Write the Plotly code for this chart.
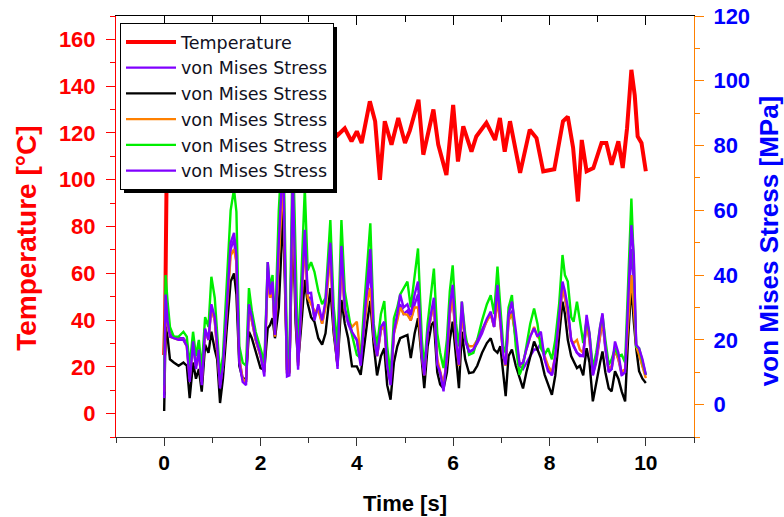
import plotly.graph_objects as go

# ---------------- data ----------------
t_temp = [0, 0.02, 0.05, 0.1, 0.3, 0.6, 0.9, 1.2, 1.5, 1.8,
          2.1, 2.4, 2.7, 3.0, 3.3, 3.6, 3.75, 3.89, 4.0, 4.1,
          4.27, 4.38, 4.48, 4.58, 4.72, 4.86, 5.0, 5.1, 5.28, 5.38,
          5.59, 5.69, 5.86, 6.0, 6.1, 6.21, 6.38, 6.48, 6.69, 6.87,
          6.97, 7.07, 7.18, 7.39, 7.59, 7.73, 7.87, 8.0, 8.1, 8.28,
          8.38, 8.49, 8.59, 8.67, 8.77, 8.91, 9.08, 9.18, 9.29, 9.43,
          9.52, 9.61, 9.7, 9.77, 9.83, 9.91, 10.0]
temperature = [25, 40, 100, 118, 122, 115, 125, 118, 128, 120,
               125, 117, 127, 121, 126, 119, 122, 116.4, 120.7, 115.7,
               133.5, 125, 100, 125, 115, 126.4, 115.7, 121, 134.2, 110.7,
               130, 115, 102, 132, 107.8, 122.8, 112, 118.5, 124.3, 117,
               126.4, 112, 125, 102.9, 121.4, 117.8, 103.6, 104, 104.5, 125,
               127, 113.7, 90.7, 117, 103.6, 105, 115.7, 115.7, 106.4, 116.4,
               105, 122, 147, 136, 118.5, 115.7, 103.6]

t_stress = [0, 0.03, 0.07, 0.12, 0.2, 0.3, 0.4, 0.47, 0.53, 0.6,
            0.66, 0.72, 0.78, 0.85, 0.92, 0.98, 1.05, 1.1, 1.16, 1.22,
            1.3, 1.38, 1.45, 1.5, 1.56, 1.63, 1.7, 1.76, 1.82, 1.9,
            2.0, 2.08, 2.15, 2.2, 2.25, 2.3, 2.38, 2.47, 2.55, 2.6,
            2.67, 2.73, 2.78, 2.85, 2.92, 2.98, 3.05, 3.12, 3.2, 3.28,
            3.35, 3.45, 3.52, 3.6, 3.68, 3.75, 3.82, 3.9, 4.0, 4.08,
            4.15, 4.22, 4.28, 4.35, 4.42, 4.5, 4.57, 4.63, 4.7, 4.77,
            4.84, 4.9, 4.97, 5.05, 5.12, 5.2, 5.27, 5.35, 5.4, 5.47,
            5.55, 5.6, 5.67, 5.73, 5.8, 5.87, 5.93, 5.99, 6.06, 6.12,
            6.18, 6.25, 6.33, 6.42, 6.5, 6.6, 6.7, 6.78, 6.85, 6.92,
            6.98, 7.04, 7.09, 7.15, 7.22, 7.3, 7.38, 7.45, 7.52, 7.6,
            7.68, 7.75, 7.82, 7.9, 7.97, 8.05, 8.12, 8.2, 8.27, 8.32,
            8.38, 8.45, 8.5, 8.57, 8.63, 8.7, 8.77, 8.83, 8.9, 8.97,
            9.05, 9.1, 9.16, 9.23, 9.29, 9.36, 9.43, 9.5, 9.57, 9.63,
            9.67, 9.7, 9.75, 9.8, 9.86, 9.93, 10.0]

stress_purple_a = [3, 31, 25, 22, 21, 20.5, 20.5, 19, 8, 19,
                   12, 16, 7, 23, 20, 30, 26, 18, 6, 12,
                   29, 48, 51, 44, 14, 8, 7, 30, 26, 20,
                   15, 10, 42, 33, 36, 21, 47, 72, 10, 10,
                   68, 30, 12, 31, 52, 33, 33, 27, 30, 25,
                   31, 48, 24, 12, 46, 29, 25, 22, 20, 13,
                   25, 35, 42, 21, 15, 23, 25, 12, 7, 22,
                   27, 31, 28, 29, 26, 31, 34, 15, 9, 22,
                   28, 31, 13, 10, 6, 14, 28, 34, 19, 12,
                   29, 20, 16, 17, 19, 22, 26, 28, 24, 34,
                   26, 15, 12, 26, 29, 20, 12, 11, 13, 15,
                   17, 17, 19, 14, 11, 9, 14, 26, 36, 33,
                   28, 20, 18, 16, 15, 15, 26, 20, 9, 13,
                   22, 26, 17, 10, 11, 17, 14, 9, 10, 28,
                   42, 48, 38, 18, 16, 12, 9]

stress_black = [-2, 24, 21, 14, 13, 12, 13, 12, 2, 13,
                8, 11, 4, 18.5, 16, 22.5, 17, 14, 0.5, 8,
                23.5, 38, 40.5, 34, 12, 8, 8, 22.5, 20.5, 16.4,
                11.3, 10.8, 23.6, 24.6, 26.7, 20.5, 30, 60, 10.8, 10,
                58, 25, 13, 25, 38.5, 31.3, 27, 25.6, 20.5, 18.5,
                22, 36, 22, 12, 32.3, 25, 20.5, 11.8, 11.8, 9.2,
                18, 26, 32, 18.5, 9, 15, 17.4, 6, 1.5, 13,
                18, 20.5, 21, 21.5, 14.4, 22, 26.7, 12, 5.1, 18,
                24.6, 25.6, 10, 6.2, 5, 10, 20, 25.6, 15.4, 5.1,
                22.5, 14, 9.7, 10, 12, 16, 19, 20.5, 17, 16,
                18, 9, 2.6, 15, 17, 12, 8, 5, 10, 15,
                19.5, 17, 14.4, 9.2, 6, 3, 9, 20, 31.8, 28,
                20, 15, 13.3, 11.3, 12, 9, 17.4, 13, 1, 7,
                13, 16.4, 10, 5, 4.1, 10.3, 8, 4, 1, 20,
                30, 36.9, 25.6, 17.4, 10.3, 8, 6.7]

stress_orange = [4, 30, 25, 21, 20.5, 20, 20, 18, 8, 19,
                 12, 16, 7, 23, 20, 30, 26, 18, 6, 12,
                 28, 46, 48, 44, 14, 8, 7, 29, 26, 20,
                 15, 10, 40, 33, 36, 21, 45, 70, 10, 10,
                 65, 30, 12, 31, 50, 33, 31, 29, 29, 25,
                 30, 46, 24, 12, 45, 29, 26, 24, 25.6, 15,
                 24, 32, 36, 21, 15, 23, 25, 12, 7, 22,
                 26, 30, 28, 27.7, 26, 30, 30, 15, 9, 22,
                 28, 30, 14, 10, 6, 14, 28, 33, 19, 12,
                 28, 20, 18, 18, 20, 23, 26, 28, 24, 32,
                 25, 15, 12, 26, 28, 21, 12, 13, 17, 21,
                 24, 21, 20, 15, 12, 10, 15, 26, 36, 33,
                 28, 20, 19, 20, 17, 16, 25, 20, 10, 14,
                 22, 26, 18, 11, 12, 17, 14, 10, 11, 26,
                 36, 40, 30, 18, 15.4, 12, 8.2]

stress_green = [6, 40, 32, 24, 21, 21, 22.5, 21, 12, 22.5,
                15, 20, 11, 27, 24, 39.5, 33, 22, 9, 15,
                36, 60, 66.5, 59.5, 18, 13, 12, 36, 29, 22.5,
                17.4, 13, 44, 36, 40, 23, 60, 85, 17, 14,
                82, 40, 15, 40, 66.7, 41.5, 44, 41, 35, 31,
                33, 57, 30, 18, 57, 35, 28, 21.5, 15.4, 14.4,
                30, 45, 56, 25, 18, 28, 32, 18, 9, 26.7,
                30, 34, 36, 38, 30, 40, 48.2, 20, 11.3, 25,
                35, 42, 22, 16, 11.3, 20, 35, 43, 25, 18,
                31.8, 22, 15.4, 16, 20, 26, 31, 33.8, 28, 42.6,
                30, 18, 16, 30, 33.8, 18, 9.2, 12, 18, 25,
                29.7, 25, 17.4, 15.4, 17.4, 14, 20, 31, 46.2, 40,
                38, 27, 25.6, 31.8, 26, 19, 26, 22, 11.3, 16,
                24, 27.7, 20, 12.3, 14, 17.4, 15, 15.4, 13, 36,
                55, 63.6, 44, 18, 17.4, 13, 9.2]

stress_purple_b = [2, 34, 26, 21, 20.5, 20, 20, 18, 7, 19.5,
                   11, 17, 6, 23.5, 20, 31, 27, 18.5, 5, 12,
                   30, 50, 53, 46, 13, 7, 6, 31, 27, 20.5,
                   15.4, 8.7, 44, 34, 38, 21.5, 50, 77, 8.7, 9,
                   72, 32, 10.8, 33, 54, 34.4, 34.5, 26, 31, 26,
                   32, 50, 25, 11, 49, 30, 25.6, 22.5, 20, 12,
                   26, 38, 48, 21.5, 15, 24, 25.6, 12, 6, 22.5,
                   28, 34, 30, 31, 27.7, 34, 38, 15, 9, 22,
                   29, 33, 12.3, 10, 4.1, 15, 30, 37, 19.5, 12.3,
                   31.8, 20, 16.4, 17, 19.5, 23, 26.5, 28.7, 24, 37,
                   27, 15, 12.3, 28, 31.8, 23, 12.3, 13, 17, 21,
                   23.6, 21, 22.5, 14, 10.3, 9.2, 15, 28, 38, 35,
                   30, 20, 18.5, 16, 15.4, 15, 27.7, 22, 9.2, 14,
                   24, 28.2, 18, 10.3, 11, 19.5, 16, 9.2, 10, 31.8,
                   48, 55.4, 46, 18.5, 17.4, 14, 9.2]

stress_names = ["von Mises Stress"] * 5
stress_colors = ["#8000ff", "#000000", "#ff8000", "#00ee00", "#8000ff"]
stress_series = [stress_purple_a, stress_black, stress_orange, stress_green, stress_purple_b]

x_tickvals = [0, 2, 4, 6, 8, 10]
temp_tickvals = [0, 20, 40, 60, 80, 100, 120, 140, 160]
stress_tickvals = [0, 20, 40, 60, 80, 100, 120]

# ---------------- figure ----------------
ARIAL = "Liberation Sans, Arial, sans-serif"
DEJA = "DejaVu Sans, sans-serif"
fig = go.Figure()
fig.add_trace(go.Scatter(x=t_temp, y=temperature, name="Temperature", mode="lines",
                         line=dict(color="#ff0000", width=4), xaxis="x", yaxis="y"))
for name, vals, col in zip(stress_names, stress_series, stress_colors):
    fig.add_trace(go.Scatter(x=t_stress, y=vals, name=name, mode="lines",
                             line=dict(color=col, width=2.4), xaxis="x", yaxis="y2"))
# carrier for the top axis (no visible data)
fig.add_trace(go.Scatter(x=[None], y=[None], xaxis="x2", yaxis="y", showlegend=False,
                         hoverinfo="skip"))

# plot-area pixel geometry: x 116..694, y 16..437
L, R, T, B = 116, 694, 16, 437
def px(xp):
    return (xp - L) / (R - L)
def py(yp):
    return (B - yp) / (B - T)

fig.update_layout(
    template="none",
    width=784, height=517,
    margin=dict(l=L, r=784 - R, t=T, b=517 - B, autoexpand=False),
    paper_bgcolor="white", plot_bgcolor="white",
    showlegend=True,
    legend=dict(x=px(120), y=py(23), xanchor="left", yanchor="top",
                bgcolor="white", bordercolor="black", borderwidth=1,
                font=dict(family=DEJA, size=17.5, color="#111122"),
                tracegroupgap=0, itemwidth=50),
    shapes=[dict(type="rect", xref="paper", yref="paper",
                 x0=px(124), x1=px(337), y0=py(27), y1=py(193),
                 fillcolor="black", line=dict(width=0), layer="above")],
    xaxis=dict(range=[-1, 11], tickvals=x_tickvals, ticks="outside", ticklen=8,
               tickwidth=1, tickcolor="#333333", showline=True, linecolor="#333333",
               linewidth=1, showgrid=False, zeroline=False, automargin=False,
               ticklabelstandoff=-1,
               minor=dict(dtick=1, tick0=0, ticks="outside", ticklen=5, tickcolor="#333333"),
               tickfont=dict(family=ARIAL, size=21, color="black", weight="bold"),
               title=dict(text="Time [s]", standoff=22,
                          font=dict(family=ARIAL, size=22, color="black", weight="bold"))),
    xaxis2=dict(range=[-1, 11], overlaying="x", side="top", anchor="y",
                tickvals=x_tickvals, ticks="inside", ticklen=9, tickcolor="black",
                showline=True, linecolor="black", linewidth=1, showgrid=False,
                zeroline=False, showticklabels=False, automargin=False,
                minor=dict(dtick=1, tick0=0, ticks="inside", ticklen=6, tickcolor="black")),
    yaxis=dict(range=[-10, 170], tickvals=temp_tickvals, ticks="outside", ticklen=9,
               tickcolor="#ff0000", showline=True, linecolor="#ff0000", linewidth=1,
               showgrid=False, zeroline=False, automargin=False, ticklabelstandoff=6,
               minor=dict(dtick=10, tick0=0, ticks="outside", ticklen=5, tickcolor="#ff0000"),
               tickfont=dict(family=ARIAL, size=22, color="#ff0000", weight="bold"),
               title=dict(text="Temperature [°C]&nbsp;&nbsp;&nbsp;", standoff=14,
                          font=dict(family=ARIAL, size=28, color="#ff0000", weight="bold"))),
    yaxis2=dict(range=[-10, 120], overlaying="y", side="right", anchor="x",
                tickvals=stress_tickvals, ticks="outside", ticklen=9,
                tickcolor="#ff8000", showline=True, linecolor="#ff8000", linewidth=1,
                showgrid=False, zeroline=False, automargin=False, ticklabelstandoff=5,
                minor=dict(dtick=10, tick0=0, ticks="outside", ticklen=5, tickcolor="#ff8000"),
                tickfont=dict(family=ARIAL, size=22, color="#0000ff", weight="bold"),
                title=dict(text="von Mises Stress [MPa]&nbsp;&nbsp;&nbsp;&nbsp;", standoff=12,
                           font=dict(family=ARIAL, size=26, color="#0000ff", weight="bold"))),
)

fig.write_html("out.html", config={"displayModeBar": False},
               post_script="document.body.style.margin='0px';")
